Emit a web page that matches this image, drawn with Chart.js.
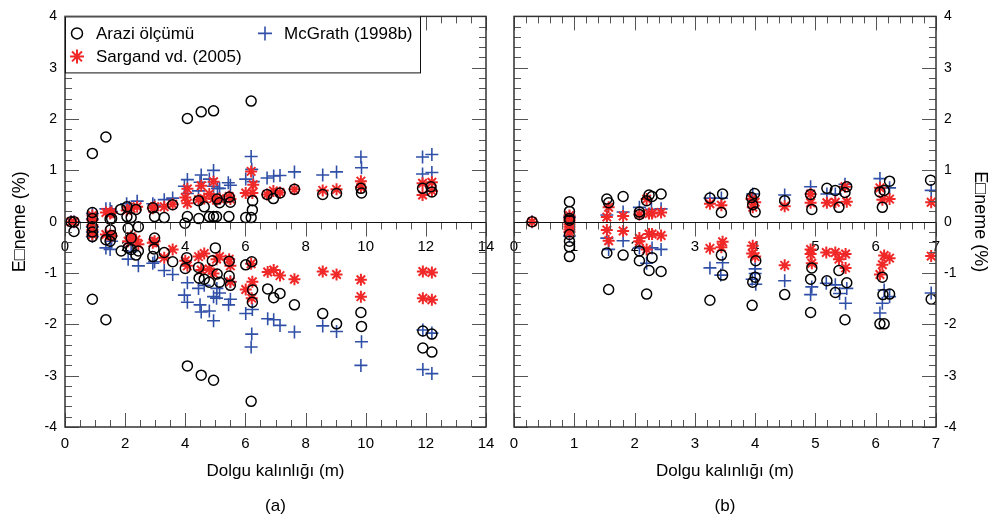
<!DOCTYPE html>
<html>
<head>
<meta charset="utf-8">
<script src="https://cdn.jsdelivr.net/npm/chart.js@4/dist/chart.umd.min.js"></script>
<style>
  body { margin: 0; background: #fff; }
  #wrap { position: relative; width: 993px; height: 523px; }
  canvas { position: absolute; left: 0; top: 0; }
</style>
</head>
<body>
<div id="wrap">
  <canvas id="chartA" width="993" height="523"></canvas>
  <canvas id="chartB" width="993" height="523"></canvas>
</div>
<script>
// series names and axis text
const seriesNames = ['Arazi ölçümü', 'Sargand vd. (2005)', 'McGrath (1998b)'];
const xTitle = 'Dolgu kalınlığı (m)';
const yTitle = 'E\u25A1neme (%)';
const panelLabels = ['(a)', '(b)'];

// panel (a): [dolgu kalinligi, deger]
const araziA = [
  [0.2,0],[0.3,0],[0.91,1.33],[1.36,1.65],[4.07,2.01],[4.53,2.14],[4.94,2.16],[6.19,2.35],
  [0.91,0.18],[0.91,0.06],[1.5,0.05],[1.55,0.06],[1.85,0.24],[2.06,0.1],[2.2,0.08],[2.36,0.24],
  [2.06,0.29],[2.92,0.27],[2.98,0.1],[3.3,0.08],[3.58,0.33],[4.07,0.1],[4.45,0.06],[4.44,0.41],
  [4.63,0.29],[4.8,0.1],[4.94,0.1],[5.04,0.1],[5.06,0.44],[5.14,0.37],[5.46,0.48],[5.5,0.38],
  [5.45,0.1],[6.01,0.08],[6.19,0.08],[6.23,0.23],[6.24,0.41],[6.72,0.53],[6.93,0.45],[7.15,0.56],
  [7.63,0.63],[8.57,0.53],[9.03,0.55],[9.84,0.65],[9.86,0.56],[11.89,0.65],[12.17,0.68],[12.2,0.58],
  [0.3,-0.19],[0.91,-0.1],[0.91,-0.2],[0.91,-0.29],[0.91,-1.51],[1.36,-1.91],[1.36,-0.35],[1.5,-0.38],
  [1.51,-0.16],[1.55,-0.27],[1.87,-0.57],[2.1,-0.13],[2.1,-0.51],[2.2,-0.32],[2.2,-0.54],[2.36,-0.65],
  [2.44,-0.1],[2.44,-0.57],[2.92,-0.68],[2.96,-0.53],[2.98,-0.32],[3.3,-0.6],[3.58,-0.78],[3.99,-0.03],
  [4.05,-0.7],[4.0,-0.91],[4.07,-2.81],[4.44,-0.89],[4.46,-1.1],[4.63,-1.12],[4.53,-2.99],[4.94,-3.09],
  [4.8,-1.18],[4.9,-0.76],[5.0,-0.51],[5.06,-1.02],[5.14,-1.18],[5.46,-0.77],[5.46,-1.06],[5.5,-1.24],
  [6.01,-0.84],[6.21,-0.78],[6.24,-1.33],[6.23,-1.57],[6.19,-3.5],[6.74,-1.31],[6.94,-1.48],[7.15,-1.4],
  [7.63,-1.62],[8.57,-1.79],[9.03,-1.99],[9.84,-1.77],[9.86,-2.04],[11.9,-2.13],[11.9,-2.46],[12.2,-2.19],
  [12.2,-2.54]
];
const sargandA = [
  [0.2,0],[0.3,0],[0.91,0.03],[0.91,0.12],[1.36,0.18],[1.5,0.16],[1.55,0.18],[2.05,0.22],[2.2,0.26],
  [2.4,0.29],[2.92,0.26],[2.98,0.29],[3.3,0.29],[3.58,0.34],[4.0,0.47],[4.07,0.64],[4.07,0.36],[4.44,0.43],
  [4.53,0.7],[4.63,0.45],[4.8,0.54],[4.94,0.78],[4.94,0.45],[5.04,0.42],[5.14,0.45],[5.46,0.49],[5.5,0.44],
  [6.01,0.56],[6.19,0.98],[6.23,0.56],[6.26,0.72],[6.72,0.53],[6.93,0.6],[7.15,0.57],[7.63,0.63],[8.57,0.61],
  [9.03,0.63],[9.84,0.79],[9.84,0.67],[11.89,0.75],[11.89,0.52],[12.2,0.77],[12.2,0.6],
  [0.91,-0.07],[0.91,-0.16],[0.91,-0.25],[1.36,-0.25],[1.5,-0.25],[1.55,-0.28],[2.1,-0.38],[2.2,-0.29],
  [2.36,-0.35],[2.44,-0.44],[2.92,-0.41],[2.98,-0.38],[3.3,-0.7],[3.58,-0.54],[4.0,-0.76],[4.07,-0.86],
  [4.44,-0.68],[4.63,-0.62],[4.53,-0.94],[4.8,-0.92],[4.94,-1.01],[5.04,-0.73],[5.14,-0.68],[5.46,-0.73],
  [5.5,-0.86],[5.5,-1.17],[6.01,-1.32],[6.19,-0.82],[6.23,-1.17],[6.21,-1.49],[6.74,-0.98],[6.94,-0.94],
  [7.15,-1.05],[7.63,-1.12],[8.57,-0.97],[9.03,-1.03],[9.84,-1.13],[9.84,-1.46],[11.9,-0.97],[12.2,-0.99],
  [11.9,-1.49],[12.2,-1.52]
];
const mcgrathA = [
  [0.2,0],[0.3,0],[0.91,0.16],[0.91,0.05],[1.36,0.25],[1.5,0.25],[1.55,0.2],[2.05,0.35],[2.14,0.28],
  [2.4,0.4],[2.92,0.35],[2.98,0.32],[3.3,0.43],[3.58,0.46],[3.97,0.69],[4.07,0.82],[4.07,0.55],[4.44,0.6],
  [4.53,0.91],[4.49,0.77],[4.8,0.83],[4.94,1.0],[4.94,0.69],[5.07,0.65],[5.14,0.65],[5.43,0.76],[5.5,0.71],
  [6.01,0.83],[6.19,1.27],[6.21,1.02],[6.26,0.78],[6.72,0.85],[6.94,0.89],[7.15,0.9],[7.63,0.97],[8.57,0.91],
  [9.03,0.97],[9.84,1.26],[9.86,1.05],[11.89,1.26],[12.2,1.31],[11.89,0.93],[12.2,0.96],
  [0.91,-0.1],[0.91,-0.2],[0.91,-0.29],[1.36,-0.51],[1.5,-0.54],[1.55,-0.38],[2.1,-0.73],[2.2,-0.58],
  [2.44,-0.86],[2.92,-0.81],[2.98,-0.78],[3.3,-0.95],[3.58,-1.03],[4.07,-1.19],[3.97,-1.43],[4.07,-1.57],
  [4.44,-1.3],[4.49,-1.62],[4.53,-1.76],[4.63,-1.24],[4.8,-1.74],[4.94,-1.93],[4.94,-1.46],[5.04,-1.49],
  [5.05,-1.3],[5.14,-1.39],[5.44,-1.62],[5.5,-1.51],[5.5,-1.17],[6.01,-1.79],[6.23,-1.71],[6.21,-2.19],
  [6.19,-2.44],[6.74,-1.89],[6.94,-1.91],[7.15,-2.02],[7.63,-2.15],[8.57,-2.03],[9.03,-2.14],[9.84,-2.8],
  [9.86,-2.34],[11.9,-2.88],[12.2,-2.96],[11.9,-2.11],[12.2,-2.17]
];

// panel (b)
const araziB = [
  [0.3,0],[0.92,0.03],[0.92,0.39],[0.92,0.2],[0.92,0.06],[1.54,0.44],[1.57,0.37],[1.81,0.49],[2.08,0.19],
  [2.08,0.14],[2.2,0.41],[2.24,0.52],[2.29,0.49],[2.44,0.54],[3.25,0.46],[3.46,0.54],[3.44,0.18],[3.94,0.47],
  [3.99,0.55],[3.96,0.33],[4.0,0.19],[4.49,0.41],[4.92,0.53],[4.94,0.24],[5.19,0.65],[5.33,0.61],[5.39,0.28],
  [5.49,0.57],[5.52,0.68],[6.07,0.58],[6.11,0.28],[6.14,0.61],[6.23,0.79],[6.91,0.81],
  [0.92,-0.25],[0.92,-0.38],[0.92,-0.49],[0.92,-0.68],[1.54,-0.61],[1.57,-1.32],[1.81,-0.65],[2.08,-0.57],
  [2.08,-0.76],[2.2,-1.41],[2.24,-0.95],[2.29,-0.7],[2.44,-0.97],[3.25,-1.53],[3.44,-0.65],[3.46,-1.04],
  [3.95,-1.63],[3.96,-1.18],[4.0,-1.08],[4.01,-0.76],[4.49,-1.42],[4.92,-1.77],[4.92,-1.12],[4.94,-0.9],
  [5.19,-1.15],[5.33,-1.38],[5.39,-0.95],[5.49,-1.91],[5.52,-1.19],[6.07,-1.99],[6.14,-1.99],[6.11,-1.08],
  [6.12,-1.42],[6.23,-1.41],[6.92,-1.51]
];
const sargandB = [
  [0.3,0],[0.92,0.02],[0.92,0.06],[0.92,0.12],[1.54,0.09],[1.57,0.28],[1.81,0.11],[2.08,0.14],[2.2,0.44],
  [2.24,0.16],[2.29,0.16],[2.44,0.18],[3.25,0.35],[3.44,0.32],[3.94,0.44],[3.96,0.28],[4.0,0.38],[4.49,0.3],
  [4.92,0.54],[4.92,0.37],[5.19,0.37],[5.33,0.38],[5.49,0.68],[5.52,0.39],[6.07,0.66],[6.11,0.43],[6.23,0.44],
  [6.92,0.38],
  [0.92,-0.05],[0.92,-0.1],[0.92,-0.15],[0.92,-0.2],[1.54,-0.16],[1.57,-0.37],[1.81,-0.18],[2.08,-0.32],
  [2.08,-0.38],[2.2,-0.54],[2.24,-0.24],[2.29,-0.24],[2.44,-0.27],[3.25,-0.52],[3.46,-0.39],[3.44,-0.5],
  [3.95,-0.62],[3.96,-0.47],[4.0,-0.68],[4.49,-0.85],[4.92,-0.54],[4.92,-0.63],[4.94,-0.81],[5.18,-0.6],
  [5.33,-0.6],[5.39,-0.73],[5.5,-0.63],[5.5,-0.9],[6.07,-1.03],[6.11,-0.84],[6.14,-0.66],[6.23,-0.71],
  [6.92,-0.67]
];
const mcgrathB = [
  [0.3,0],[0.92,0.09],[1.54,0.13],[1.81,0.19],[2.08,0.28],[2.28,0.24],[2.44,0.25],[3.25,0.46],[3.44,0.46],
  [3.96,0.54],[4.49,0.52],[4.92,0.68],[5.19,0.54],[5.33,0.54],[5.49,0.73],[6.07,0.84],[6.23,0.66],[6.92,0.61],
  [0.92,-0.28],[1.54,-0.32],[1.57,-0.54],[1.81,-0.37],[2.08,-0.51],[2.2,-0.81],[2.29,-0.51],[2.44,-0.54],
  [3.25,-0.9],[3.46,-0.8],[3.43,-1.04],[3.95,-1.12],[4.0,-1.01],[4.0,-0.92],[4.01,-1.22],[4.49,-1.15],
  [4.92,-1.42],[4.94,-1.27],[5.18,-1.2],[5.33,-1.23],[5.4,-1.4],[5.5,-1.59],[5.52,-1.3],[6.07,-1.78],
  [6.11,-1.59],[6.14,-1.33],[6.23,-1.46],[6.92,-1.39]
];

// axis ranges / ticks
const xRangeA = [0, 14], xMajorA = 2, xMinorA = 0.5;
const xRangeB = [0, 7], xMajorB = 1, xMinorB = 0.2;
const yRange = [-4, 4], yMajor = 1, yMinor = 0.2;

const FONT = 'Arial, "Liberation Sans", sans-serif';
Chart.defaults.font.family = FONT;
Chart.defaults.color = '#000';

const styles = [
  { pointStyle: 'circle', pointRadius: 5, borderColor: '#000', backgroundColor: 'rgba(0,0,0,0)', borderWidth: 1.5 },
  { pointStyle: 'star', pointRadius: 6, borderColor: '#f02828', backgroundColor: '#f02828', borderWidth: 2 },
  { pointStyle: 'cross', pointRadius: 6.5, borderColor: '#3050a8', backgroundColor: '#3050a8', borderWidth: 1.6 }
];

function toPts(arr) {
  return arr.map(p => ({ x: p[0], y: p[1] }));
}

function makeDatasets(lists) {
  return lists.map((l, i) => Object.assign({ label: seriesNames[i], data: toPts(l) }, styles[i]));
}

// frame, zero line and tick marks (major / minor) drawn from the scales
const frameTicks = {
  id: 'frameTicks',
  afterDraw(chart, args, opts) {
    const { ctx, chartArea: a, scales } = chart;
    const x = scales.x, y = scales.y;
    const y0 = Math.round(y.getPixelForValue(0)) + 0.5;
    const line = (x1, y1, x2, y2) => { ctx.beginPath(); ctx.moveTo(x1, y1); ctx.lineTo(x2, y2); ctx.stroke(); };
    ctx.save();
    ctx.strokeStyle = '#555';
    ctx.lineWidth = 1;
    const nx = Math.round((x.max - x.min) / opts.xMinor);
    for (let i = 0; i <= nx; i++) {
      const v = x.min + i * opts.xMinor;
      const px = Math.round(x.getPixelForValue(v)) + 0.5;
      const r = v / opts.xMajor;
      const len = Math.abs(r - Math.round(r)) < 1e-6 ? 14 : 7;
      line(px, a.bottom, px, a.bottom - len);
      line(px, a.top, px, a.top + len);
      line(px, y0, px, y0 + len);
    }
    const ny = Math.round((y.max - y.min) / opts.yMinor);
    for (let i = 0; i <= ny; i++) {
      const v = y.min + i * opts.yMinor;
      const py = Math.round(y.getPixelForValue(v)) + 0.5;
      const r = v / opts.yMajor;
      const len = Math.abs(r - Math.round(r)) < 1e-6 ? 14 : 7;
      line(a.left, py, a.left + len, py);
      line(a.right, py, a.right - len, py);
    }
    ctx.strokeStyle = '#111';
    line(a.left, y0, a.right, y0);
    ctx.strokeStyle = '#333';
    ctx.lineWidth = 1.5;
    ctx.strokeRect(a.left, a.top, a.right - a.left, a.bottom - a.top);
    ctx.restore();
  }
};

// boxed legend in the top-left corner of panel (a)
const boxLegend = {
  id: 'boxLegend',
  afterDraw(chart, args, opts) {
    if (!opts.show) return;
    const { ctx, chartArea: a } = chart;
    const left = a.left, top = a.top, w = 355, h = 56;
    ctx.save();
    ctx.fillStyle = '#fff';
    ctx.fillRect(left, top, w, h);
    ctx.strokeStyle = '#111';
    ctx.lineWidth = 1;
    ctx.strokeRect(left + 0.5, top + 0.5, w, h);
    const spots = [[left + 12, top + 17], [left + 12, top + 40], [left + 200, top + 17]];
    ctx.font = '17px ' + FONT;
    ctx.textBaseline = 'middle';
    ctx.fillStyle = '#000';
    chart.data.datasets.forEach((ds, i) => {
      const [sx, sy] = spots[i];
      ctx.strokeStyle = ds.borderColor;
      ctx.fillStyle = ds.backgroundColor;
      ctx.lineWidth = ds.borderWidth;
      Chart.helpers.drawPoint(ctx, { pointStyle: ds.pointStyle, radius: ds.pointStyle === 'circle' ? 5.5 : 7, rotation: 0, borderWidth: ds.borderWidth }, sx, sy);
      ctx.fillStyle = '#000';
      ctx.fillText(ds.label, sx + 19, sy + 1);
    });
    ctx.restore();
  }
};

function panelConfig(lists, xRange, xMajor, xMinor, side, label) {
  const yAxis = {
    type: 'linear', position: side, min: yRange[0], max: yRange[1],
    ticks: { stepSize: yMajor, padding: 8, font: { size: 14 } },
    grid: { display: false, drawTicks: false }, border: { display: false },
    title: { display: true, text: yTitle, font: { size: 18 }, padding: side === 'left' ? { top: 9, bottom: 0 } : { top: 2, bottom: 0 } },
    afterFit: s => { s.width = side === 'left' ? 65 : 57; }
  };
  return {
    type: 'scatter',
    data: { datasets: makeDatasets(lists) },
    options: {
      responsive: false, animation: false,
      layout: { padding: side === 'left' ? { left: 0, right: 507, top: 6, bottom: 0 } : { left: 514, right: 0, top: 6, bottom: 0 } },
      plugins: {
        legend: { display: false }, tooltip: { enabled: false },
        frameTicks: { xMajor: xMajor, xMinor: xMinor, yMajor: yMajor, yMinor: yMinor },
        boxLegend: { show: side === 'left' }
      },
      scales: {
        x: {
          type: 'linear', position: 'bottom', min: xRange[0], max: xRange[1],
          ticks: { stepSize: xMajor, padding: 8, font: { size: 15 } },
          grid: { display: false, drawTicks: false }, border: { display: false },
          title: { display: true, text: [xTitle, label], font: { size: 17, lineHeight: '35px' }, padding: { top: 0, bottom: -1 } },
          afterFit: s => { s.height = 96; }
        },
        x2: {
          type: 'linear', position: { y: 0 }, min: xRange[0], max: xRange[1],
          ticks: { stepSize: xMajor, padding: 16, font: { size: 15 } },
          grid: { display: false, drawTicks: false }, border: { display: false }
        },
        y: yAxis
      }
    },
    plugins: [frameTicks, boxLegend]
  };
}

new Chart(document.getElementById('chartA'), panelConfig([araziA, sargandA, mcgrathA], xRangeA, xMajorA, xMinorA, 'left', panelLabels[0]));
new Chart(document.getElementById('chartB'), panelConfig([araziB, sargandB, mcgrathB], xRangeB, xMajorB, xMinorB, 'right', panelLabels[1]));
</script>
</body>
</html>
